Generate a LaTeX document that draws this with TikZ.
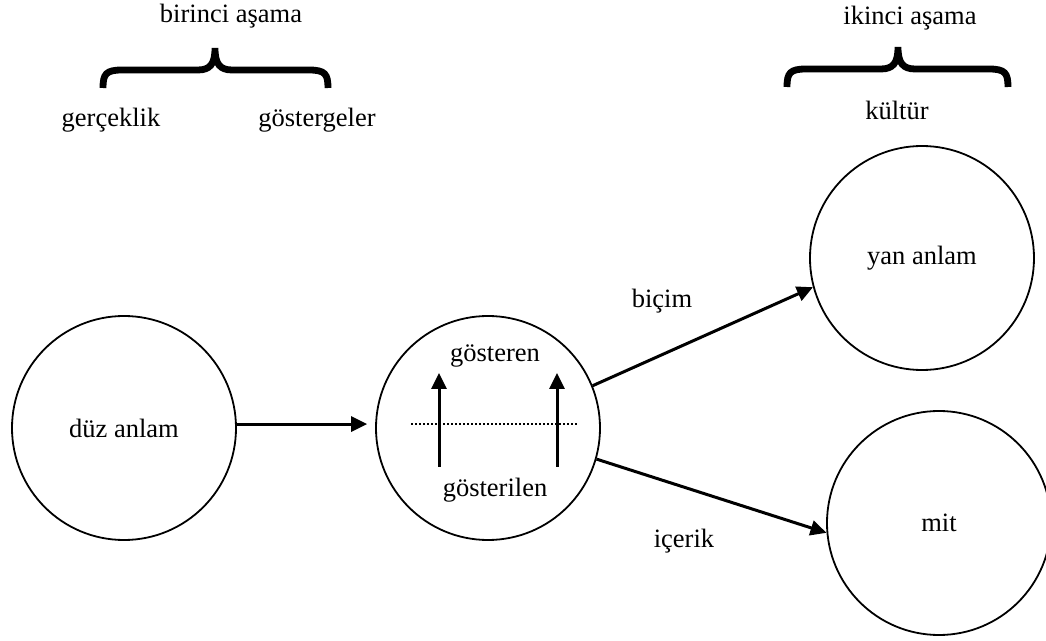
\documentclass[tikz,border=0pt]{standalone}
\usepackage{fontspec}
\setmainfont{Liberation Serif}
\usetikzlibrary{arrows.meta}

\begin{document}
\begin{tikzpicture}[
  x=0.5pt, y=-0.5pt,
  font=\fontsize{13.25}{16}\selectfont,
  anlam/.style={draw, circle, minimum size=112pt, inner sep=0pt, line width=0.9pt},
  ok/.style={-{Triangle[length=8pt, width=7.5pt]}, line width=1.5pt},
  kume/.style={line width=3.4pt},
  yazi/.style={anchor=base, inner sep=0pt}
]
\useasboundingbox (0,0) rectangle (1046,641);

% --- Circles ---
\node[anlam] (duz)  at (124,428) {düz anlam};
\node[anlam] (gost) at (488,428) {};
\node[anlam] (yan)  at (922,258) {yan anlam};
\node[anlam] (mit)  at (939,523) {mit};

% --- Texts ---
\node[yazi] (birinci) at (231,23)  {birinci aşama};
\node[yazi] (gercek)  at (111,127) {gerçeklik};
\node[yazi] (gosterg) at (317,127) {göstergeler};
\node[yazi] (ikinci)  at (910,25)  {ikinci aşama};
\node[yazi] (kultur)  at (897,120) {kültür};
\node[yazi] (bicim)   at (662,308) {biçim};
\node[yazi] (icerik)  at (684,548) {içerik};
\node[yazi] (gsteren) at (495,362) {gösteren};
\node[yazi] (gsteri)  at (495,497) {gösterilen};

% --- Braces ---
\draw[kume] (103,88) .. controls (103,74) and (106,70) .. (122,70) -- (198,70)
  .. controls (210,70) and (215,64) .. (215,48)
  .. controls (215,64) and (220,70) .. (232,70) -- (309,70)
  .. controls (325,70) and (328,74) .. (328,88);
\draw[kume] (787,87) .. controls (787,73) and (790,69) .. (806,69) -- (881,69)
  .. controls (893,69) and (898,63) .. (898,47)
  .. controls (898,63) and (903,69) .. (915,69) -- (989,69)
  .. controls (1005,69) and (1008,73) .. (1008,87);

% --- Inside the sign ---
\coordinate (a1) at (439,467);
\coordinate (a2) at (439,373);
\coordinate (b1) at (557,467);
\coordinate (b2) at (557,373);
\coordinate (c1) at (411,424);
\coordinate (c2) at (577,424);
\draw[ok] (a1) -- (a2);
\draw[ok] (b1) -- (b2);
\draw[line width=0.8pt, dash pattern=on 0.9pt off 1.1pt] (c1) -- (c2);

% --- Arrows ---
\draw[ok, shorten >=4pt] (duz.2) -- (gost.178);
\draw[ok] (gost.22) -- (yan.195);
\draw[ok] (gost.-16) -- (mit.185);

\end{tikzpicture}
\end{document}
